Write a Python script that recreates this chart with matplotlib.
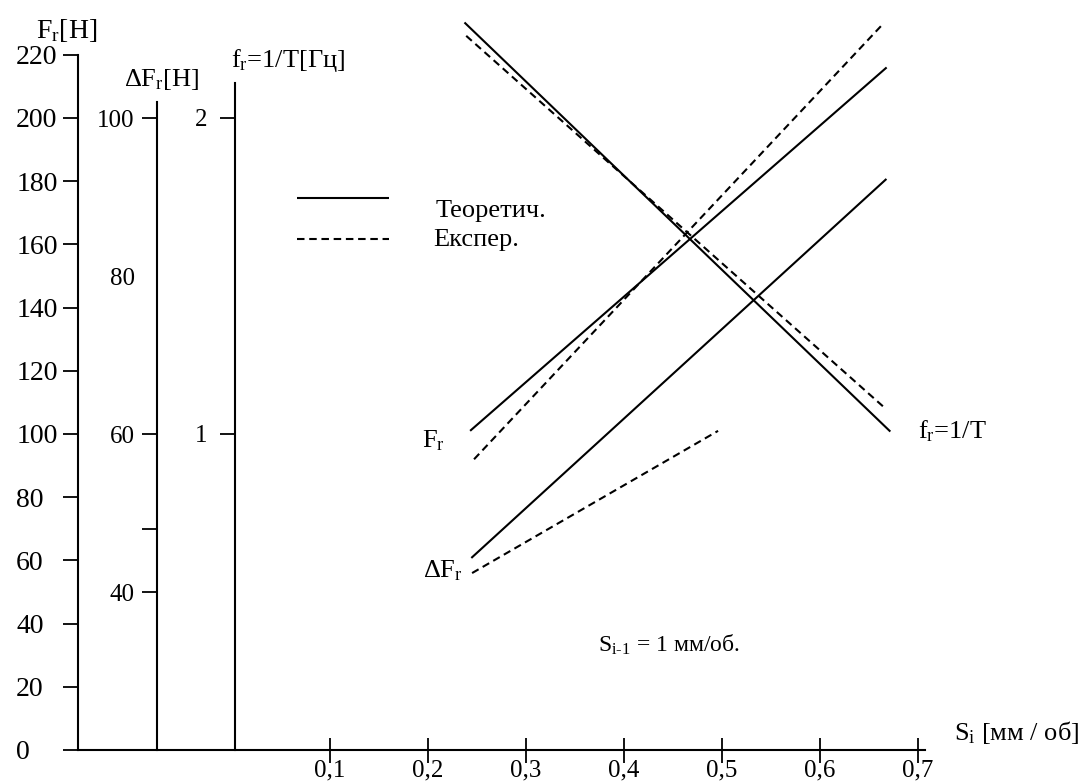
import matplotlib.pyplot as plt

plt.rcParams['font.family'] = ['Liberation Serif', 'DejaVu Serif']
plt.rcParams['mathtext.fontset'] = 'custom'
plt.rcParams['mathtext.rm'] = 'Liberation Serif'
plt.rcParams['mathtext.it'] = 'Liberation Serif:italic'
plt.rcParams['mathtext.bf'] = 'Liberation Serif:bold'
plt.rcParams['lines.scale_dashes'] = False

# feed S_i [mm/rev] and end points of each line
s_Fr_theor = [0.243, 0.668]
Fr_theor = [101, 216]
s_Fr_exp = [0.247, 0.665]
Fr_exp = [92, 230]

s_dF_theor = [0.245, 0.667]
dF_theor = [44.4, 92.2]
s_dF_exp = [0.245, 0.496]
dF_exp = [42.4, 60.4]

s_f_theor = [0.238, 0.671]
f_theor = [2.30, 1.01]
s_f_exp = [0.239, 0.667]
f_exp = [2.26, 1.08]

x_ticks = [0.1, 0.2, 0.3, 0.4, 0.5, 0.6, 0.7]
x_ticklabels = ['0,1', '0,2', '0,3', '0,4', '0,5', '0,6', '0,7']
Fr_ticks = [0, 20, 40, 60, 80, 100, 120, 140, 160, 180, 200, 220]
dF_ticks = [40, 60, 80, 100]
dF_minor = [48]
f_ticks = [1, 2]

W, H = 1085, 784
LW = 1.5
DASH = (0, (5.4, 3.4))


def fpos(px, py):
    # pixel position on the page -> figure fraction
    return px / W, 1 - py / H


fig = plt.figure(figsize=(W / 100, H / 100), dpi=100)
ax = fig.add_axes([0, 0, 1, 1])
ax.set_xlim(-0.2367, 0.8704)
ax.set_ylim(-10.76, 237.34)

# main axis F_r
for s in ['top', 'right']:
    ax.spines[s].set_visible(False)
ax.spines['left'].set_position(('data', -0.157))
ax.spines['left'].set_bounds(0, 220)
ax.spines['bottom'].set_position(('data', 0))
ax.spines['bottom'].set_bounds(-0.157, 0.707)
for s in ['left', 'bottom']:
    ax.spines[s].set_linewidth(LW)

ax.set_xticks(x_ticks, x_ticklabels)
ax.tick_params(axis='x', direction='inout', length=18, width=1.3, pad=-2, labelsize=18)
ax.set_yticks(Fr_ticks)
ax.tick_params(axis='y', direction='out', length=10.8, width=1.3, pad=33.8, labelsize=20)
for t in ax.yaxis.get_major_ticks():
    t.label1.set_horizontalalignment('left')

# second axis dF_r
axd = ax.twinx()
axd.set_ylim(15.70, 114.94)
for s in ['top', 'right', 'bottom']:
    axd.spines[s].set_visible(False)
axd.spines['left'].set_visible(True)
axd.spines['left'].set_position(('data', -0.0765))
axd.spines['left'].set_bounds(20, 102)
axd.spines['left'].set_linewidth(LW)
axd.yaxis.set_ticks_position('left')
axd.set_yticks(dF_ticks)
axd.set_yticks(dF_minor, minor=True)
axd.tick_params(axis='y', which='both', direction='out', length=11, width=1.3, pad=5, labelsize=18)
axd.yaxis.get_major_ticks()[2].tick1line.set_visible(False)

# third axis f_r = 1/T
axf = ax.twinx()
axf.set_ylim(-0.1076, 2.3734)
for s in ['top', 'right', 'bottom']:
    axf.spines[s].set_visible(False)
axf.spines['left'].set_visible(True)
axf.spines['left'].set_position(('data', 0.003))
axf.spines['left'].set_bounds(0, 2.11)
axf.spines['left'].set_linewidth(LW)
axf.yaxis.set_ticks_position('left')
axf.set_yticks(f_ticks)
axf.tick_params(axis='y', direction='out', length=10.5, width=1.3, pad=9, labelsize=18)

# lines
l_th, = ax.plot(s_Fr_theor, Fr_theor, color='black', lw=LW, solid_capstyle='butt')
l_ex, = ax.plot(s_Fr_exp, Fr_exp, color='black', lw=LW, ls=DASH)
axd.plot(s_dF_theor, dF_theor, color='black', lw=LW)
axd.plot(s_dF_exp, dF_exp, color='black', lw=LW, ls=DASH)
axf.plot(s_f_theor, f_theor, color='black', lw=LW)
axf.plot(s_f_exp, f_exp, color='black', lw=LW, ls=DASH)

# legend, two pieces so each key sits like in the scan
leg1 = axf.legend([l_th], ['Теоретич.'], loc='upper left', bbox_to_anchor=fpos(297, 178),
                  bbox_transform=fig.transFigure, frameon=False, fontsize=19,
                  handlelength=3.5, handletextpad=1.75, handleheight=3.3,
                  borderpad=0, borderaxespad=0)
axf.add_artist(leg1)
axf.legend([l_ex], ['Експер.'], loc='upper left', bbox_to_anchor=fpos(297, 229),
           bbox_transform=fig.transFigure, frameon=False, fontsize=19,
           handlelength=3.5, handletextpad=1.65, handleheight=0.1,
           borderpad=0, borderaxespad=0)

# axis titles and labels
fig.text(*fpos(67, 30), 'F$_\\mathrm{r}$[Н]', ha='center', va='center', fontsize=20)
fig.text(*fpos(162, 80), 'ΔF$_\\mathrm{r}$[Н]', ha='center', va='center', fontsize=19)
fig.text(*fpos(288, 60), 'f$_\\mathrm{r}$=1/T[Гц]', ha='center', va='center', fontsize=19)
fig.text(*fpos(433, 441), 'F$_\\mathrm{r}$', ha='center', va='center', fontsize=19)
fig.text(*fpos(443, 571), 'ΔF$_\\mathrm{r}$', ha='center', va='center', fontsize=19)
fig.text(*fpos(952, 431), 'f$_\\mathrm{r}$=1/T', ha='center', va='center', fontsize=19)
fig.text(*fpos(669, 645), 'S$_\\mathrm{i\\text{-}1}$ = 1 мм/об.', ha='center', va='center', fontsize=17)
fig.text(*fpos(1017, 733), 'S$_\\mathrm{i}$ [мм / об]', ha='center', va='center', fontsize=19)

fig.savefig('out.png', dpi=100, facecolor='white')
